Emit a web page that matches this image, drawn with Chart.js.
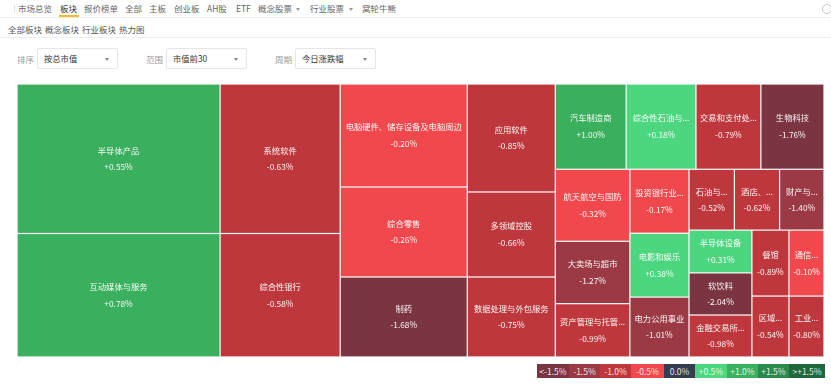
<!DOCTYPE html>
<html>
<head>
<meta charset="utf-8">
<script src="https://cdn.jsdelivr.net/npm/chart.js@4.4.0/dist/chart.umd.min.js"></script>
<style>
  html, body { margin: 0; padding: 0; background: #fff; }
  body { width: 831px; height: 384px; position: relative; overflow: hidden;
         font-family: "Noto Sans CJK SC", "Noto Sans", sans-serif; }
  .abs { position: absolute; white-space: nowrap; line-height: 1; }
  .nav { font-size: 8.5px; color: #666; top: 4px; }
  .nav.active { color: #333; }
  .sub { font-size: 8.5px; color: #555; top: 25px; }
  .hline { position: absolute; left: 0; width: 831px; height: 1px; background: #eeeeee; }
  .flabel { font-size: 8.5px; color: #9a9a9a; top: 55px; }
  .sel { position: absolute; top: 48px; width: 79px; height: 19px; border: 1px solid #e6e6e6; border-radius: 2px; }
  .sel span { position: absolute; left: 6px; top: 5px; font-size: 8.3px; color: #333; line-height: 1; }
  .sel i { position: absolute; right: 8px; top: 9px; width: 0; height: 0;
           border-left: 2px solid transparent; border-right: 2px solid transparent; border-top: 3px solid #888; }
  .caret { position: absolute; width: 0; height: 0; top: 8px;
           border-left: 2px solid transparent; border-right: 2px solid transparent; border-top: 3px solid #999; }
  #legend { position: absolute; left: 537px; top: 364px; height: 14px; display: flex; }
  #legend div { height: 14px; font-size: 8.5px; color: rgba(255,255,255,0.88); text-align: center; line-height: 14px; }
  #wrap { position: absolute; left: 0; top: 80px; width: 831px; height: 280px; }
</style>
</head>
<body>
<div class="abs" style="left:14px;top:5px;width:1px;height:8px;background:#e2e2e2;"></div>
<div class="abs nav" style="left:18px;">市场总览</div>
<div class="abs nav active" style="left:60px;">板块</div>
<div class="abs" style="left:59px;top:15px;width:20px;height:2px;background:#f5bd1f;"></div>
<div class="abs nav" style="left:84px;">报价榜单</div>
<div class="abs nav" style="left:125px;">全部</div>
<div class="abs nav" style="left:149px;">主板</div>
<div class="abs nav" style="left:174px;">创业板</div>
<div class="abs nav" style="left:207px;">AH股</div>
<div class="abs nav" style="left:236px;">ETF</div>
<div class="abs nav" style="left:258px;">概念股票</div>
<div class="caret" style="left:296px;"></div>
<div class="abs nav" style="left:310px;">行业股票</div>
<div class="caret" style="left:349px;"></div>
<div class="abs nav" style="left:362px;">窝轮牛熊</div>
<div class="abs" style="left:822px;top:4px;width:8px;height:8px;border:1px solid #c8c8c8;border-radius:50%;"></div>
<div class="hline" style="top:17px;"></div>
<div class="abs sub" style="left:8px;">全部板块</div>
<div class="abs sub" style="left:45px;">概念板块</div>
<div class="abs sub" style="left:82px;">行业板块</div>
<div class="abs sub" style="left:119px;">热力图</div>
<div class="hline" style="top:37px;"></div>

<div class="abs flabel" style="left:17px;">排序</div>
<div class="sel" style="left:37px;"><span>按总市值</span><i></i></div>
<div class="abs flabel" style="left:146px;">范围</div>
<div class="sel" style="left:166px;"><span>市值前30</span><i></i></div>
<div class="abs flabel" style="left:275px;">周期</div>
<div class="sel" style="left:295px;"><span>今日涨跌幅</span><i></i></div>

<div id="wrap"><canvas id="heat" width="831" height="280"></canvas></div>
<div id="legend"></div>

<script>
// 行业板块（市值前30），按总市值排序
const sectors = ['半导体产品', '互动媒体与服务', '系统软件', '综合性银行', '电脑硬件、储存设备及电脑周边',
    '综合零售', '制药', '应用软件', '多领域控股', '数据处理与外包服务',
    '汽车制造商', '综合性石油与天然气', '交易和支付处理服务', '生物科技', '航天航空与国防',
    '大卖场与超市', '资产管理与托管银行', '投资银行业与经纪业', '电影和娱乐', '电力公用事业',
    '石油与天然气勘探与生产', '酒店、度假村与豪华游轮', '财产与意外伤害保险', '半导体设备', '软饮料',
    '金融交易所和数据', '餐馆', '通信设备', '区域性银行', '工业机械'];
const marketCaps = [30350, 25070, 17940, 14820, 13080, 11430, 10160, 9500, 7480, 7040,
    6040, 5950, 5530, 5380, 5370, 4650, 3975, 3780, 3775, 3540,
    2760, 2750, 2700, 2690, 2650, 2640, 2440, 2310, 2255, 2135];
const changes = [0.55, 0.78, -0.63, -0.58, -0.20, -0.26, -1.68, -0.85, -0.66, -0.75,
    1.00, 0.18, -0.79, -1.76, -0.32, -1.27, -0.99, -0.17, 0.38, -1.01,
    -0.52, -0.62, -1.40, 0.31, -2.04, -0.98, -0.89, -0.10, -0.54, -0.80];

// 图例
const legendLabels = ['<-1.5%', '-1.5%', '-1.0%', '-0.5%', '0.0%', '+0.5%', '+1.0%', '+1.5%', '>+1.5%'];
const bucketColors = ['#7a3540', '#9b3a44', '#be373c', '#f0484d', '#353b50', '#4cd680', '#3aaf5e', '#2b8a4b', '#20683b'];
const legendWidths = [32, 31, 31, 33, 31, 32, 31, 31, 36];

// 布局坐标系（数据单位）
const DOMAIN_W = 807;
const DOMAIN_H = 273;

function bucketOf(v) {
    if (v > 1.5) return 8;
    if (v > 1.0) return 7;
    if (v > 0.5) return 6;
    if (v > 0) return 5;
    if (v === 0) return 4;
    if (v >= -0.5) return 3;
    if (v >= -1.0) return 2;
    if (v >= -1.5) return 1;
    return 0;
}

function fmtPct(v) {
    return (v > 0 ? '+' : '') + v.toFixed(2) + '%';
}

// squarified treemap
function squarify(values, x, y, w, h) {
    const total = values.reduce((a, b) => a + b, 0);
    const areas = values.map(v => v * w * h / total);
    const rect = { x, y, w, h };
    const out = [];

    function worst(row, area, len) {
        let mx = 0, mn = Infinity;
        row.forEach(i => { mx = Math.max(mx, areas[i]); mn = Math.min(mn, areas[i]); });
        const s2 = area * area, f = len * len;
        return Math.max(f * mx / s2, s2 / (f * mn));
    }

    function position(row, area, len, flush) {
        const horiz = len === rect.w;
        let t = area / len;
        const other = horiz ? rect.h : rect.w;
        if (flush || t > other) t = other;
        let last = horiz ? rect.x : rect.y;
        const end = horiz ? rect.x + rect.w : rect.y + rect.h;
        row.forEach((i, k) => {
            let step = areas[i] / t;
            if (k === row.length - 1) step = end - last;
            if (horiz) out[i] = { x0: last, x1: last + step, y0: rect.y, y1: rect.y + t };
            else out[i] = { x0: rect.x, x1: rect.x + t, y0: last, y1: last + step };
            last += step;
        });
        if (horiz) { rect.y += t; rect.h -= t; } else { rect.x += t; rect.w -= t; }
    }

    let row = [], rowArea = 0, best = Infinity, len = Math.min(w, h);
    let i = 0;
    while (i < areas.length) {
        row.push(i);
        rowArea += areas[i];
        const score = worst(row, rowArea, len);
        if (score <= best) {
            i++;
            best = score;
        } else {
            row.pop();
            rowArea -= areas[i];
            position(row, rowArea, len, false);
            len = Math.min(rect.w, rect.h);
            row = [];
            rowArea = 0;
            best = Infinity;
        }
    }
    if (row.length) position(row, rowArea, len, true);
    return out;
}

function fitText(ctx, text, maxW) {
    if (ctx.measureText(text).width <= maxW) return text;
    let s = text;
    while (s.length > 1 && ctx.measureText(s + '...').width > maxW) s = s.slice(0, -1);
    return s + '...';
}

const treemapCells = {
    id: 'treemapCells',
    afterDatasetsDraw(chart) {
        const { ctx, scales: { x, y } } = chart;
        const cells = squarify(marketCaps, 0, 0, DOMAIN_W, DOMAIN_H);
        ctx.save();
        ctx.font = '8.3px "Noto Sans CJK SC", sans-serif';
        ctx.textAlign = 'center';
        ctx.textBaseline = 'middle';
        cells.forEach((c, i) => {
            const px0 = x.getPixelForValue(c.x0), px1 = x.getPixelForValue(c.x1);
            const py0 = y.getPixelForValue(c.y0), py1 = y.getPixelForValue(c.y1);
            ctx.fillStyle = bucketColors[bucketOf(changes[i])];
            ctx.fillRect(px0 + 0.6, py0 + 0.6, px1 - px0 - 1.2, py1 - py0 - 1.2);

            const cx = (px0 + px1) / 2, cy = (py0 + py1) / 2;
            const avail = px1 - px0 - 7.5;
            ctx.fillStyle = 'rgba(255,255,255,0.95)';
            ctx.fillText(fitText(ctx, sectors[i], avail), cx, cy - 8.3);
            ctx.fillText(fitText(ctx, fmtPct(changes[i]), avail), cx, cy + 8.3);
        });
        ctx.restore();
    }
};

new Chart(document.getElementById('heat'), {
    type: 'scatter',
    data: { datasets: [{ data: [], pointRadius: 0 }] },
    options: {
        responsive: false,
        animation: false,
        devicePixelRatio: 1,
        layout: { padding: { left: 17, right: 7, top: 4, bottom: 3 } },
        plugins: { legend: { display: false }, tooltip: { enabled: false } },
        scales: {
            x: { type: 'linear', min: 0, max: DOMAIN_W, display: false },
            y: { type: 'linear', min: 0, max: DOMAIN_H, reverse: true, display: false }
        }
    },
    plugins: [treemapCells]
});

const legendEl = document.getElementById('legend');
legendLabels.forEach((lbl, i) => {
    legendEl.insertAdjacentHTML('beforeend',
        `<div style="width:${legendWidths[i]}px;background:${bucketColors[i]}">${lbl}</div>`);
});
</script>
</body>
</html>
